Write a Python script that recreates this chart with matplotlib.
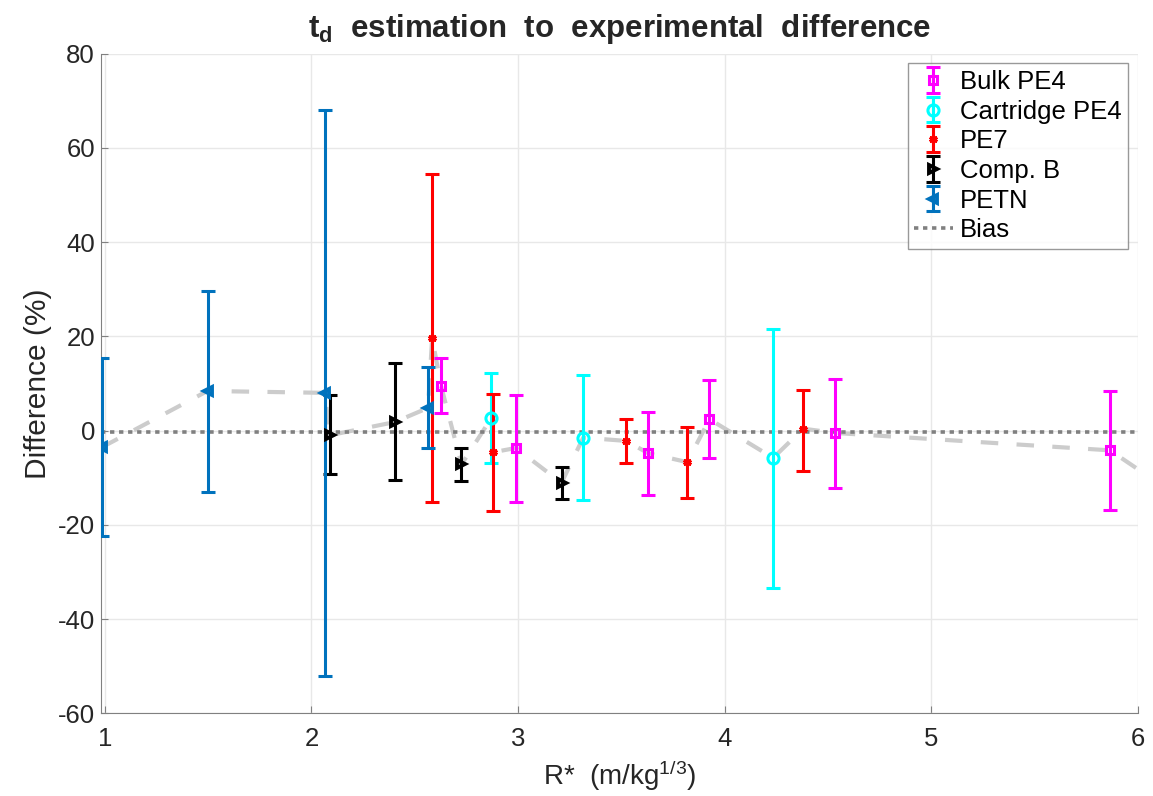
import numpy as np
import matplotlib
matplotlib.use('Agg')
import matplotlib.pyplot as plt

plt.rcParams['font.family'] = ['Liberation Sans', 'DejaVu Sans']
plt.rcParams['mathtext.default'] = 'regular'
plt.rcParams['axes.unicode_minus'] = False

# dados: R*, diferenca (%), limite inferior e superior da barra
bulk_x = [2.627, 2.989, 3.629, 3.926, 4.533, 5.864]
bulk_y = [9.5, -3.7, -4.8, 2.4, -0.5, -4.2]
bulk_lo = [3.7, -15.1, -13.6, -5.8, -12.2, -16.8]
bulk_hi = [15.3, 7.6, 3.9, 10.8, 10.9, 8.3]

cart_x = [2.871, 3.315, 4.234]
cart_y = [2.7, -1.5, -5.8]
cart_lo = [-6.8, -14.8, -33.4]
cart_hi = [12.2, 11.7, 21.6]

pe7_x = [2.584, 2.879, 3.523, 3.818, 4.380]
pe7_y = [19.7, -4.6, -2.2, -6.7, 0.4]
pe7_lo = [-15.1, -17.1, -6.9, -14.3, -8.5]
pe7_hi = [54.4, 7.8, 2.5, 0.7, 8.6]

compb_x = [2.088, 2.403, 2.726, 3.210]
compb_y = [-1.0, 1.8, -7.2, -11.1]
compb_lo = [-9.3, -10.4, -10.6, -14.6]
compb_hi = [7.5, 14.3, -3.7, -7.7]

petn_x = [0.988, 1.497, 2.065, 2.564]
petn_y = [-3.5, 8.4, 8.0, 4.8]
petn_lo = [-22.3, -13.0, -52.0, -3.7]
petn_hi = [15.3, 29.7, 68.0, 13.5]

bias = -0.3
# a linha tracejada cinza continua alem do eixo
tail_x = [6.1]
tail_y = [-11.2]

series = [
    ('Bulk PE4', bulk_x, bulk_y, bulk_lo, bulk_hi, '#ff00ff', 's', 6, 2.2),
    ('Cartridge PE4', cart_x, cart_y, cart_lo, cart_hi, '#00ffff', 'o', 8, 2.2),
    ('PE7', pe7_x, pe7_y, pe7_lo, pe7_hi, '#ff0000', (6, 2, 0), 6, 2.2),
    ('Comp. B', compb_x, compb_y, compb_lo, compb_hi, '#000000', '>', 6, 2.8),
    ('PETN', petn_x, petn_y, petn_lo, petn_hi, '#0072bd', '<', 6, 2.8),
]

fig = plt.figure(figsize=(11.53, 7.96), dpi=100)
ax = fig.add_axes([0.0873, 0.1039, 0.8998, 0.8288])

# linha de tendencia ligando todos os pontos por ordem de R*
todos_x = np.concatenate([bulk_x, cart_x, pe7_x, compb_x, petn_x, tail_x])
todos_y = np.concatenate([bulk_y, cart_y, pe7_y, compb_y, petn_y, tail_y])
ordem = np.argsort(todos_x)
ax.plot(todos_x[ordem], todos_y[ordem], color='#cccccc', lw=3,
        dashes=(4.2, 4.4), zorder=1)

handles = []
for nome, x, y, lo, hi, cor, marc, ms, mew in series:
    x = np.array(x); y = np.array(y)
    yerr = [y - np.array(lo), np.array(hi) - y]
    h = ax.errorbar(x, y, yerr=yerr, linestyle='none',
                    marker=marc, markersize=ms, markerfacecolor='none',
                    markeredgecolor=cor, markeredgewidth=2.2, color=cor,
                    ecolor=cor, elinewidth=2.2, capsize=5, capthick=2.2,
                    label=nome, zorder=3)
    h[0].set_markeredgewidth(mew)
    handles.append(h)

hb = ax.axhline(bias, color='#808080', lw=2.6, ls=(0, (1.2, 1.3)), label='Bias', zorder=2)
handles.append(hb)

ax.set_xlim(0.98, 6)
ax.set_ylim(-60, 80)
ax.set_xticks([1, 2, 3, 4, 5, 6])
ax.set_yticks(range(-60, 81, 20))
ax.grid(True, color='#e8e8e8', lw=1)
ax.set_axisbelow(True)
for s in ['top', 'right']:
    ax.spines[s].set_visible(False)
for s in ['left', 'bottom']:
    ax.spines[s].set_color('#808080')
ax.tick_params(direction='in', length=5, color='#808080', labelsize=18.5,
               labelcolor='#262626')
ax.tick_params(axis='x', pad=10)
ax.tick_params(axis='y', pad=4)

ax.set_xlabel(r'R*  (m/kg$^{1/3}$)', fontsize=20, color='#262626', labelpad=5)
ax.set_ylabel('Difference (%)', fontsize=21.5, color='#262626', labelpad=4)
ax.set_title(r'$t_d$  estimation  to  experimental  difference', fontsize=22.5,
             fontweight='bold', color='#262626', pad=12)

leg = ax.legend(handles=handles, loc='upper right', bbox_to_anchor=(0.9905, 0.985),
                borderaxespad=0, fontsize=18.5, frameon=True, fancybox=False,
                edgecolor='#808080', handlelength=1.5, handletextpad=0.3,
                labelspacing=0.22, borderpad=0.25)
leg.get_frame().set_linewidth(1)

fig.savefig('out.png', dpi=100)
